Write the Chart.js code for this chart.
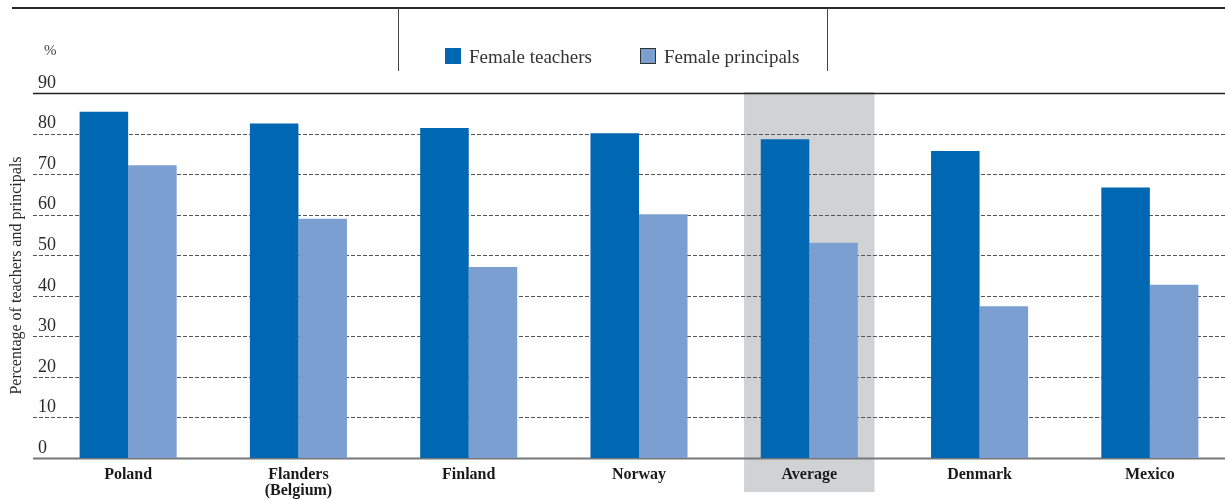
<!doctype html>
<html lang="en">
  <head>
    <meta charset="utf-8">
    <title>Female teachers and principals</title>
    <style>
      * {
        margin: 0;
        padding: 0;
      }
      body {
        width: 1225px;
        height: 499px;
        overflow: hidden;
        background: #fff;
        font-family: "Liberation Serif", serif;
        color: #333;
      }
      .chartBox {
        position: absolute;
        left: 0;
        top: 0;
        width: 1235px;
        height: 499px;
      }
      .topRule {
        position: absolute;
        left: 12px;
        top: 7px;
        width: 1230px;
        height: 2px;
        background: #2a2a2a;
      }
      .vRule {
        position: absolute;
        top: 8px;
        width: 1px;
        height: 63px;
        background: #444;
      }
      .legend {
        position: absolute;
        top: 46px;
        left: 445px;
        font-size: 19px;
        white-space: nowrap;
      }
      .legend span.item {
        display: inline-block;
        margin-right: 48px;
      }
      .legend i {
        display: inline-block;
        width: 16px;
        height: 16px;
        margin-right: 8px;
        vertical-align: -1px;
        box-sizing: border-box;
      }
      .pct {
        position: absolute;
        left: 44px;
        top: 42px;
        font-size: 15px;
        color: #444;
      }
    </style>
  </head>
  <body>
    <div class="chartBox">
      <canvas id="myChart" width="1235" height="499"></canvas>
    </div>
    <div class="topRule"></div>
    <div class="vRule" style="left:398px"></div>
    <div class="vRule" style="left:827px"></div>
    <div class="pct">%</div>
    <div class="legend" id="legend"></div>
    <script src="https://cdn.jsdelivr.net/npm/chart.js"></script>
    <script>

    // setup
    const countries = ['Poland', ['Flanders', '(Belgium)'], 'Finland', 'Norway', 'Average', 'Denmark', 'Mexico'];
    const femaleTeachers = [85.4, 82.5, 81.4, 80.1, 78.6, 75.7, 66.7];
    const femalePrincipals = [72.2, 59.0, 47.1, 60.1, 53.1, 37.4, 42.7];
    const yTicks = [0, 10, 20, 30, 40, 50, 60, 70, 80, 90];
    const highlightIndex = 4;

    const teacherColor = '#0067b2';
    const principalColor = '#7c9fd2';

    const data = {
      labels: countries,
      datasets: [{
        label: 'Female teachers',
        data: femaleTeachers,
        backgroundColor: teacherColor,
        borderWidth: 0
      }, {
        label: 'Female principals',
        data: femalePrincipals,
        backgroundColor: principalColor,
        borderWidth: 0
      }]
    };

    // grey band behind the average, drawn before the axes so the label sits on it
    const highlightBand = {
      id: 'highlightBand',
      beforeDraw(chart) {
        const {ctx, chartArea, scales: {x}} = chart;
        const cx = x.getPixelForValue(highlightIndex);
        const half = (chartArea.right - chartArea.left) / countries.length * 0.383;
        ctx.save();
        ctx.fillStyle = '#d1d2d4';
        ctx.fillRect(cx - half, chartArea.top - 1, half * 2, chartArea.bottom - chartArea.top + 35);
        ctx.restore();
      }
    };

    // gridlines: dashed, solid rule at top, grey base line
    const gridLines = {
      id: 'gridLines',
      beforeDatasetsDraw(chart) {
        const {ctx, scales: {y}} = chart;
        ctx.save();
        y.ticks.forEach(t => {
          const py = Math.round(y.getPixelForValue(t.value)) + 0.5;
          ctx.beginPath();
          if (t.value === 90) {
            ctx.strokeStyle = '#222';
            ctx.lineWidth = 1.5;
            ctx.setLineDash([]);
          } else if (t.value === 0) {
            ctx.strokeStyle = '#777';
            ctx.lineWidth = 2;
            ctx.setLineDash([]);
          } else {
            ctx.strokeStyle = '#555';
            ctx.lineWidth = 1;
            ctx.setLineDash([4, 2]);
          }
          ctx.moveTo(33, py);
          ctx.lineTo(chart.width, py);
          ctx.stroke();
        });
        ctx.restore();
      }
    };

    // config
    const config = {
      type: 'bar',
      data,
      options: {
        responsive: false,
        animation: false,
        layout: {
          padding: { top: 93, left: 0, right: 0, bottom: 0 }
        },
        datasets: {
          bar: {
            categoryPercentage: 0.57,
            barPercentage: 1
          }
        },
        plugins: {
          legend: { display: false },
          tooltip: { enabled: false }
        },
        scales: {
          x: {
            grid: { display: false, drawTicks: false },
            border: { display: false },
            ticks: {
              padding: 9,
              color: '#1a1a1a',
              font: { family: 'Liberation Serif', size: 16, weight: 'bold', lineHeight: 1.0 }
            },
            afterFit(scale) { scale.height = 41; }
          },
          y: {
            min: 0,
            max: 90,
            afterBuildTicks(scale) {
              scale.ticks = yTicks.map(v => ({ value: v }));
            },
            grid: { display: false, drawTicks: false },
            border: { display: false },
            ticks: {
              mirror: true,
              padding: -5,
              labelOffset: -10,
              color: '#2a2a2a',
              font: { family: 'Liberation Serif', size: 18 }
            },
            title: {
              display: true,
              text: 'Percentage of teachers and principals',
              color: '#2a2a2a',
              padding: { top: 7, bottom: 0 },
              font: { family: 'Liberation Serif', size: 16 }
            },
            afterFit(scale) { scale.width = 43; }
          }
        }
      },
      plugins: [highlightBand, gridLines]
    };

    // render init block
    const myChart = new Chart(
      document.getElementById('myChart'),
      config
    );

    // legend
    const legend = document.getElementById('legend');
    data.datasets.forEach((ds, i) => {
      const item = document.createElement('span');
      item.className = 'item';
      const box = document.createElement('i');
      box.style.background = ds.backgroundColor;
      if (i === 1) box.style.border = '1px solid #333';
      item.appendChild(box);
      item.appendChild(document.createTextNode(ds.label));
      legend.appendChild(item);
    });
    </script>
  </body>
</html>
